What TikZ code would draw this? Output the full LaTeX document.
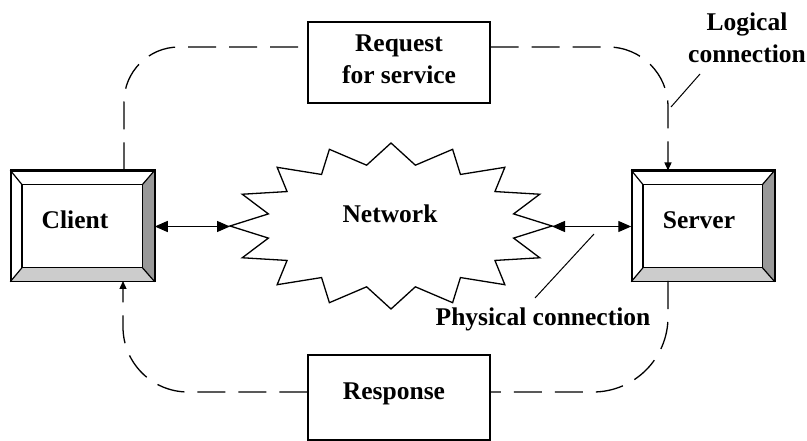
\documentclass[tikz,border=0pt]{standalone}
\usepackage{fontspec}
\setmainfont{Liberation Serif}
\usetikzlibrary{arrows.meta,calc}
\definecolor{bevdark}{gray}{0.6}
\definecolor{bevlight}{gray}{0.8}
\tikzset{
  lbl/.style={font=\fontsize{25.5}{32}\selectfont\bfseries, inner sep=0pt, align=center},
  plainbox/.style={draw, line width=1.4pt, fill=white, inner sep=0pt},
  bevbox/.style={draw, line width=1.5pt, fill=white, inner sep=0pt},
  logic/.style={line width=1.3pt, dash pattern=on 28pt off 13pt},
  phys/.style={line width=1.3pt, {Triangle[length=13pt,width=11pt]}-{Triangle[length=13pt,width=11pt]}},
  leader/.style={line width=1pt},
  starline/.style={line width=1.3pt, fill=white}
}
\newcommand{\bevelbox}[1]{%
  \coordinate (#1-a) at ($(#1.north west)+(11.7,14.3)$);
  \coordinate (#1-b) at ($(#1.north east)+(-12.3,14.3)$);
  \coordinate (#1-c) at ($(#1.south east)+(-12.3,-14)$);
  \coordinate (#1-d) at ($(#1.south west)+(11.7,-14)$);
  \fill[bevdark] (#1.north east) -- (#1-b) -- (#1-c) -- (#1.south east) -- cycle;
  \fill[bevlight] (#1.south east) -- (#1-c) -- (#1-d) -- (#1.south west) -- cycle;
  \draw[line width=1.2pt] (#1.north west) -- (#1-a) (#1.north east) -- (#1-b)
     (#1.south east) -- (#1-c) (#1.south west) -- (#1-d);
  \draw[line width=1.4pt] (#1-a) rectangle (#1-c);
  \draw[line width=1.5pt] (#1.north west) rectangle (#1.south east);
}
\begin{document}
\begin{tikzpicture}[x=1pt,y=-1pt]
\useasboundingbox (0,0) rectangle (807,441);
% boxes
\node[bevbox, minimum width=143pt, minimum height=110pt] (client) at (82.5,226) {};
\bevelbox{client}
\node[lbl] (clientt) at (75,220) {Client};
\node[bevbox, minimum width=142pt, minimum height=110pt] (server) at (703,226) {};
\bevelbox{server}
\node[lbl] (servert) at (699,220) {Server};
\node[plainbox, minimum width=182pt, minimum height=81pt] (req) at (399,62.5) {};
\node[lbl] (reqt) at (399,59) {Request\\for service};
\node[plainbox, minimum width=182pt, minimum height=85pt] (resp) at (399,397.5) {};
\node[lbl] (respt) at (394,394) {Response};
% network star
\draw[starline] (552,226)
  \foreach \k in {0,...,15} {
    -- ({391+125*cos(\k*22.5+11.25)},{226-62*sin(\k*22.5+11.25)})
    -- ({391+161*cos((\k+1)*22.5)},{226-83*sin((\k+1)*22.5)})
  } -- cycle;
\node[lbl] (net) at (390,214) {Network};
\coordinate (netL) at (230,226.5);
\coordinate (netR) at (552,226.5);
% physical connections
\draw[phys] (client.east |- netL) -- (netL);
\draw[phys] (netR) -- (server.west |- netR);
% logical connection loops
\coordinate (cl) at (124,170.5);
\coordinate (sv) at (668,170.5);
\coordinate (clb) at (123,281);
\coordinate (svb) at (668,281);
\draw[logic, rounded corners=55pt] (cl) |- (req.west |- 0,47);
\draw[logic, rounded corners=60pt, -{Triangle[length=8pt,width=7pt]}] (req.east |- 0,47) -| (sv);
\draw[logic, rounded corners=75pt] (svb) |- (resp.east |- 0,392);
\draw[logic, rounded corners=65pt, -{Triangle[length=8pt,width=7pt]}] (resp.west |- 0,392) -| (clb);
% labels with leaders
\node[lbl] (phl) at (543,319) {Physical connection};
\coordinate (phA) at (535,298);
\coordinate (phB) at (594,234);
\draw[leader] (phA) -- (phB);
\node[lbl] (lgl) at (747,38) {Logical\\connection};
\coordinate (lgA) at (700,74);
\coordinate (lgB) at (671,107);
\draw[leader] (lgA) -- (lgB);
\end{tikzpicture}
\end{document}
